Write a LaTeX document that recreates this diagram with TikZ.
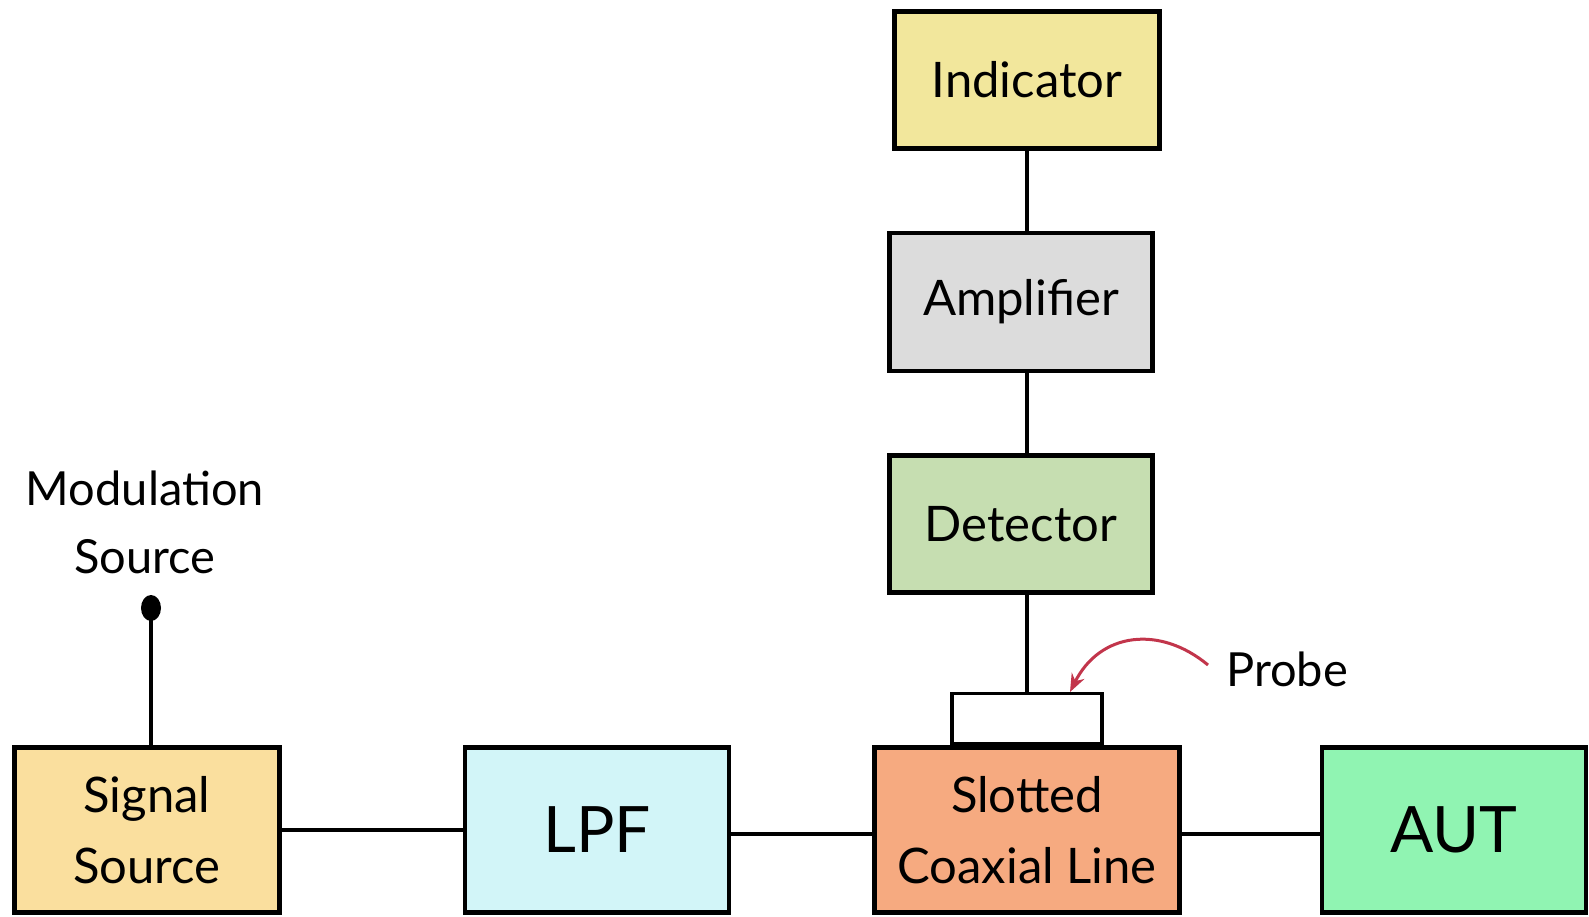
\documentclass[tikz,border=0pt]{standalone}
\usepackage{fontspec}
\setmainfont{Lato}
\usetikzlibrary{arrows.meta}
\definecolor{indfill}{HTML}{F2E79C}
\definecolor{ampfill}{HTML}{DCDCDC}
\definecolor{detfill}{HTML}{C6DEB1}
\definecolor{sigfill}{HTML}{FADF9E}
\definecolor{lpffill}{HTML}{D2F5F8}
\definecolor{slotfill}{HTML}{F6AA80}
\definecolor{autfill}{HTML}{90F4B2}
\definecolor{probered}{HTML}{C2354B}
\tikzset{
 block/.style={draw,line width=4.5pt,inner sep=0,font=\fontsize{49}{71}\selectfont,align=center},
 wire/.style={line width=4.5pt},
 bigtext/.style={font=\fontsize{64}{70}\selectfont},
 probebox/.style={draw,line width=3.5pt,fill=white,minimum width=150pt,minimum height=50pt,inner sep=0},
 plainlabel/.style={font=\fontsize{47}{68}\selectfont,align=center,inner sep=0},
 probearrow/.style={draw=probered,line width=3pt,-{Stealth[length=18pt,width=14pt]}}
}
\begin{document}
\begin{tikzpicture}[x=1pt,y=-1pt]
\path[use as bounding box,fill=white] (0,0) rectangle (1589,917);
% top column
\node[block,fill=indfill,minimum width=265pt,minimum height=137pt] (ind) at (1027,80) {Indicator};
\node[block,fill=ampfill,minimum width=263pt,minimum height=138pt] (amp) at (1021,302) {Amplifier};
\node[block,fill=detfill,minimum width=263pt,minimum height=137pt] (det) at (1021,524) {Detector};
% bottom row
\node[block,fill=sigfill,minimum width=265pt,minimum height=165pt] (sig) at (147,830) {Signal\\Source};
\node[block,bigtext,fill=lpffill,minimum width=264pt,minimum height=165pt] (lpf) at (597,830) {LPF};
\node[block,fill=slotfill,minimum width=305pt,minimum height=165pt] (slot) at (1027,830) {Slotted\\Coaxial Line};
\node[block,bigtext,fill=autfill,minimum width=264pt,minimum height=165pt] (aut) at (1454,830) {AUT};
\node[probebox,anchor=south] (probe) at (slot.north) {};
% wiring
\draw[wire] (ind.south -| probe.north) -- (amp.north -| probe.north);
\draw[wire] (amp.south -| probe.north) -- (det.north -| probe.north);
\draw[wire] (det.south -| probe.north) -- (probe.north);
\draw[wire] (sig) -- (lpf);
\draw[wire] ([yshift=-4pt]lpf.east) -- ([yshift=-4pt]slot.west);
\draw[wire] ([yshift=-4pt]slot.east) -- ([yshift=-4pt]aut.west);
% modulation input
\node[plainlabel] (modlbl) at (145,522) {Modulation\\Source};
\coordinate (mod) at (151,608);
\draw[wire] (mod) -- (mod |- sig.north);
\fill (mod) ellipse (10pt and 13pt);
% probe callout
\node[plainlabel,anchor=west] (probelbl) at (1226,669) {Probe};
\coordinate (probetip) at (1070,692);
\draw[probearrow] (probelbl.west) ++(-18,-4) .. controls (1160,625) and (1100,632) .. (probetip);
\end{tikzpicture}
\end{document}
